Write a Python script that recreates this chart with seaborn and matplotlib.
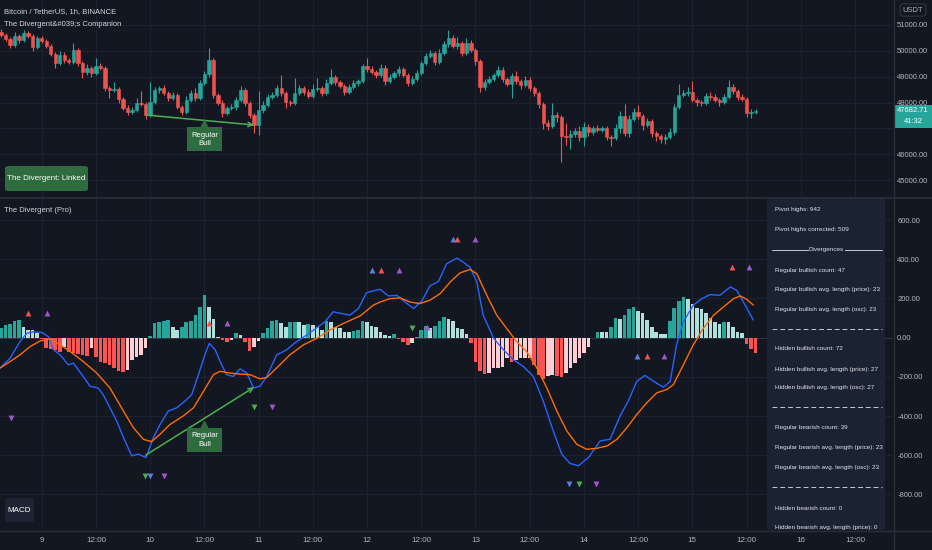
import numpy as np
import matplotlib
matplotlib.use("Agg")
import matplotlib.pyplot as plt
from matplotlib.patches import Rectangle, FancyBboxPatch
from matplotlib.lines import Line2D
import seaborn as sns

W, H = 932, 550
BG = "#131722"
GRID = "#1f2331"
AXTXT = "#b2b5be"
SEP = "#2a2e39"
UP, DOWN = "#26a69a", "#ef5350"
HIST_COLS = {"up_grow": "#26a69a", "up_fall": "#b2dfdb",
             "dn_grow": "#ff5252", "dn_fall": "#ffcdd2"}
LABEL_GREEN = "#2e6b3f"
ARROW_GREEN = "#4caf50"

sns.set_theme(style="dark", rc={"axes.facecolor": BG, "figure.facecolor": BG,
                                 "savefig.facecolor": BG})
plt.rcParams["font.family"] = ["Noto Sans Condensed", "Liberation Sans", "DejaVu Sans"]

# %% data ---------------------------------------------------------------
# 1h candles, hour 0 = day 9 00:00
hours = list(range(-9, 159))
first_open = 50722
closes = [
    50606, 50452, 50220, 50567, 50413, 50683, 50567, 50143, 50490, 50374,
    50181, 49873, 49525, 49834, 49641, 49564, 50027, 49525, 49178, 49332,
    49139, 49409, 49332, 48560, 48483, 48522, 48136, 47788, 47634, 47711,
    47981, 47943, 47518, 48020, 48483, 48560, 48367, 48174, 48290, 47827,
    47634, 48097, 48367, 48174, 48753, 49101, 49641, 48290, 47981, 47595,
    47788, 47827, 48097, 48483, 47981, 47518, 47132, 47711, 47904, 48213,
    48290, 48560, 48367, 48020, 47981, 48367, 48560, 48406, 48251, 48522,
    48560, 48367, 48753, 48985, 48792, 48637, 48406, 48599, 48753, 48830,
    49409, 49294, 49178, 49062, 49332, 48830, 48985, 49139, 49294, 49062,
    48753, 48908, 49139, 49525, 49796, 49911, 49564, 49911, 50259, 50490,
    50181, 50297, 49911, 50297, 50027, 49602, 48599, 48792, 48908, 49062,
    49255, 48908, 48715, 49024, 48830, 48676, 48869, 48560, 48367, 47943,
    47209, 47093, 47518, 47441, 46707, 46669, 46785, 46900, 46669, 47055,
    46862, 47016, 46939, 47016, 46669, 46630, 47016, 47480, 46823, 47364,
    47634, 47480, 47132, 47286, 46823, 46707, 46592, 46669, 46862, 47827,
    48290, 48367, 48406, 48097, 48020, 47981, 48251, 48213, 48097, 48020,
    48213, 48599, 48445, 48213, 48136, 47595, 47634, 47682.71,
]
upper_wick = [
    100, 60, 80, 150, 60, 120, 80, 90, 70, 60,
    60, 80, 60, 150, 100, 80, 270, 80, 60, 150,
    80, 300, 100, 60, 80, 270, 60, 80, 100, 120,
    190, 450, 60, 770, 100, 80, 100, 60, 120, 80,
    60, 150, 100, 200, 120, 100, 460, 60, 80, 100,
    80, 120, 100, 150, 60, 80, 60, 720, 150, 100,
    120, 100, 500, 60, 80, 580, 100, 60, 120, 200,
    390, 80, 150, 310, 80, 60, 80, 100, 120, 80,
    80, 310, 100, 60, 150, 100, 120, 80, 100, 60,
    80, 100, 120, 80, 100, 120, 60, 150, 120, 310,
    100, 230, 80, 200, 100, 60, 80, 120, 100, 80,
    150, 100, 60, 100, 200, 80, 150, 100, 60, 80,
    60, 100, 460, 100, 80, 500, 150, 120, 200, 190,
    100, 80, 100, 80, 60, 80, 150, 200, 460, 150,
    150, 270, 80, 120, 80, 60, 80, 100, 150, 120,
    420, 100, 200, 420, 80, 60, 120, 150, 100, 60,
    120, 270, 100, 80, 100, 60, 120, 60,
]
lower_wick = [
    60, 80, 120, 60, 100, 60, 80, 150, 60, 80,
    80, 60, 200, 80, 100, 60, 80, 100, 250, 100,
    150, 60, 80, 100, 300, 80, 150, 80, 100, 80,
    60, 80, 150, 80, 60, 100, 80, 120, 60, 80,
    100, 60, 80, 100, 60, 80, 100, 100, 80, 150,
    80, 60, 100, 80, 100, 120, 300, 380, 100, 80,
    60, 80, 100, 250, 100, 60, 80, 100, 80, 60,
    80, 120, 60, 80, 100, 60, 120, 80, 60, 100,
    60, 100, 80, 120, 60, 150, 80, 60, 100, 80,
    120, 60, 80, 60, 80, 60, 100, 80, 60, 100,
    80, 100, 120, 80, 60, 150, 200, 100, 80, 60,
    80, 100, 80, 540, 100, 150, 60, 100, 120, 150,
    250, 150, 80, 200, 1000, 300, 450, 100, 150, 350,
    150, 100, 80, 60, 120, 300, 80, 200, 100, 150,
    80, 100, 200, 80, 150, 200, 150, 180, 80, 100,
    80, 60, 100, 80, 150, 120, 80, 100, 80, 150,
    80, 60, 100, 120, 80, 150, 190, 60,
]
last_price = "47682.71"
countdown = "41:32"

# MACD histogram, one bar per candle
hist = [
    47, 64, 68, 85, 90, 56, 39, 39, 22, -7,
    -54, -57, -63, -71, -46, -71, -79, -85, -88, -96,
    -54, -101, -122, -127, -139, -155, -172, -177, -164, -113,
    -101, -88, -54, 10, 73, 81, 85, 90, 56, 39,
    56, 81, 85, 118, 157, 216, 157, 95, 5, -12,
    -24, -12, 22, 14, -24, -68, -46, -17, 22, 51,
    85, 90, 73, 56, 78, 81, 78, 64, 68, 64,
    56, 39, 85, 78, 56, 47, 30, 30, 34, 39,
    85, 81, 61,
    56, 27, 14, 10, 17, -7, -24, -37, -29, 5,
    39, 61, 51, 61, 85, 106, 95, 85, 51, 44,
    17, -29, -122, -169, -186, -181, -155, -155, -152, -105,
    -122, -113, -105, -105, -105, -139, -189, -210, -198, -189,
    -198, -203, -181, -155, -130, -105, -79, -46, -3, 27,
    27, 27, 56, 101, 95, 118, 145, 155, 135, 128,
    90, 56, 30, 17, 17, 85, 149, 186, 208, 196,
    174, 152, 145, 128, 98, 78, 68, 78, 78, 56,
    30, 22, -34, -57, -79,
]

macd_h = [-9.2, -7.0, -4.8, -3.3, -1.9, 0, 1.5, 2.6, 4.1, 5.9, 7.0,
          8.9, 10.7, 12.5, 13.6, 15.1, 16.6, 18.1, 19.9, 21.4, 23.1,
          24.7, 26.2, 28.0, 29.9, 31.7, 33.2, 34.7, 36.1, 37.1, 38.4,
          39.5, 40.9, 42.4, 43.9, 45.4, 46.9, 48.3, 49.8, 52.0, 54.2,
          56.4, 58.7, 60.9, 62.7, 64.5, 66.4, 68.2, 70.1, 71.9, 74.9,
          76.7, 78.6, 80.4, 82.3, 84.1, 85.9, 87.8, 89.6, 91.9, 93.3,
          94.8, 96.3, 97.7, 100.0, 102.2, 104.4, 106.6, 108.8, 111.0, 113.2,
          115.1, 116.9, 118.8, 121.0, 123.6, 125.8, 128.0, 129.8, 131.7, 133.5,
          135.7, 137.6, 139.1, 140.5, 142.0, 144.2, 146.1, 147.9, 150.1, 152.4,
          153.8, 155.3, 157.5]
macd_v = [-155, -105, -20, 22, 30, 27, 5, -62, -88, -139, -130,
          -189, -248, -257, -291, -358, -426, -510, -603, -595, -612,
          -510, -443, -375, -358, -324, -291, -189, -88, -29, -62,
          -122, -189, -198, -159, -181, -257, -248, -198, -88, -62,
          -20, 14, 51, 81, 132, 123, 115, 149, 230, 247,
          213, 216, 182, 149, 186, 264, 287, 377, 406, 385,
          360, 284, 115, -3, -62, -113, -147, -198, -324, -476,
          -595, -642, -654, -612, -527, -519, -400, -324, -223, -193,
          -227, -253, -223, -37, 81, 166, 199, 220, 216, 259,
          242, 182, 90]

signal_h = [-9.2, -7.0, -4.8, -2.6, -0.4, 1.8, 4.1, 6.3, 9.2, 12.2,
            15.1, 18.1, 20.3, 22.5, 24.3, 26.2, 28.4, 31.3, 33.6, 35.8,
            38.0, 39.5, 41.7, 43.9, 46.1, 48.3, 49.8, 52.0, 54.9, 57.9,
            60.9, 63.8, 66.8, 70.5, 73.4, 74.9, 77.1, 79.3, 81.5, 83.7,
            85.9, 88.2, 90.4, 92.6, 94.8, 96.3, 98.5, 100.7, 102.9, 105.1,
            107.3, 109.6, 111.8, 114.0, 116.2, 118.4, 120.6, 122.8, 125.1, 127.3,
            129.5, 131.7, 133.9, 136.1, 138.3, 139.8, 142.0, 144.2, 146.4, 148.7,
            150.9, 153.1, 154.6, 156.0, 157.5]
signal_v = [-155, -122, -88, -46, -17, -7, -37, -71, -122, -181,
            -257, -375, -460, -519, -531, -493, -443, -400, -358, -274,
            -189, -172, -181, -186, -189, -210, -203, -155, -88, -37,
            -3, 39, 73, 111, 166, 182, 199, 203, 182, 174,
            191, 225, 284, 331, 348, 326, 216, 115, 47, -20,
            -71, -155, -257, -375, -476, -544, -570, -565, -553, -519,
            -460, -392, -333, -282, -265, -240, -139, -37, 47, 115,
            157, 199, 213, 196, 166]

# divergence markers (hour, value)
up_red_h = [-3, 37, 75, 92, 134, 152.7]
up_red_v = [128, 73, 343, 504, -95, 360]
up_purple_h = [1.1, 40.9, 79, 85.3, 96, 137.8, 156.6]
up_purple_v = [128, 73, 343, 55, 504, -95, 360]
up_blue_h = [73, 91, 131.7]
up_blue_v = [343, 504, -95]
dn_purple_h = [-6.9, 27.1, 51, 122.7]
dn_purple_v = [-412, -705, -352, -747]
dn_green_h = [22.9, 47, 82, 118.8]
dn_green_v = [-705, -352, 51, -747]
dn_blue_h = [24.0, 116.8]
dn_blue_v = [-705, -747]

# regular bullish divergence
div_h = [23, 47]
div_price = [47518, 47132]
div_osc = [-600, -253]

xtick_hours = [0, 12, 24, 36, 48, 60, 72, 84, 96, 108, 120, 132, 144, 156, 168, 180]
xtick_labels = ["9", "12:00", "10", "12:00", "11", "12:00", "12", "12:00",
                "13", "12:00", "14", "12:00", "15", "12:00", "16", "12:00"]
price_ticks = [45000, 46000, 47000, 48000, 49000, 50000, 51000]
osc_ticks = [-800, -600, -400, -200, 0, 200, 400, 600]

stats = [
    (210, "Pivot highs: 942"),
    (230, "Pivot highs corrected: 509"),
    (270, "Regular bullish count: 47"),
    (290, "Regular bullish avg. length (price): 23"),
    (310, "Regular bullish avg. length (osc): 23"),
    (349, "Hidden bullish count: 72"),
    (369, "Hidden bullish avg. length (price): 27"),
    (388, "Hidden bullish avg. length (osc): 27"),
    (428, "Regular bearish count: 39"),
    (448, "Regular bearish avg. length (price): 23"),
    (468, "Regular bearish avg. length (osc): 23"),
    (508, "Hidden bearish count: 0"),
    (527, "Hidden bearish avg. length (price): 0"),
]
stat_dashes = [329, 407, 487]

# %% figure -------------------------------------------------------------
fig = plt.figure(figsize=(W / 100, H / 100), dpi=100)


def fx(px):
    return px / W


def fy(py):
    return 1 - py / H


XMIN, XMAX = -9.23, 188.4
ax_p = fig.add_axes([0, fy(197), fx(893), 197 / H])
ax_m = fig.add_axes([0, fy(530), fx(893), (530 - 198) / H])

for ax in (ax_p, ax_m):
    ax.set_facecolor(BG)
    for s in ax.spines.values():
        s.set_visible(False)
    ax.set_xlim(XMIN, XMAX)
    ax.set_xticks(xtick_hours)
    ax.grid(True, color=GRID, lw=0.7)
    ax.set_axisbelow(True)
    ax.yaxis.tick_right()
    ax.tick_params(axis="y", length=0, pad=3, labelsize=5.5, labelcolor=AXTXT)
    ax.tick_params(axis="x", length=0)

# candles
o = np.array([first_open] + closes[:-1])
c = np.array(closes)
hi = np.maximum(o, c) + np.array(upper_wick)
lo = np.minimum(o, c) - np.array(lower_wick)
cc = np.where(c >= o, UP, DOWN)
ax_p.vlines(hours, lo, hi, colors=cc, lw=0.8, zorder=2)
ax_p.bar(hours, np.abs(c - o), bottom=np.minimum(o, c), width=0.74,
         color=cc, edgecolor=cc, linewidth=0.4, zorder=3)
ax_p.set_ylim(44353, 51957)
ax_p.set_yticks(price_ticks)
# 47000 sits under the last-price tag
ax_p.set_yticklabels(["" if t == 47000 else f"{t:.2f}" for t in price_ticks])
ax_p.set_xticklabels([])

ax_p.annotate("", xy=(div_h[1], div_price[1]), xytext=(div_h[0], div_price[0]),
              arrowprops=dict(arrowstyle="->", color=ARROW_GREEN, lw=1.1,
                              shrinkA=0, shrinkB=0, mutation_scale=8), zorder=4)
ax_p.plot(36, 47180, marker="^", ms=6, color=LABEL_GREEN, zorder=5)
ax_p.text(36, 46580, "Regular\nBull", ha="center", va="center", fontsize=5.5,
          color="white", linespacing=1.25, zorder=6,
          bbox=dict(boxstyle="square,pad=0.55", fc=LABEL_GREEN, ec="none"))

# MACD histogram
hcols = []
for i, v in enumerate(hist):
    prev = hist[i - 1] if i > 0 else 0
    if v >= 0:
        hcols.append(HIST_COLS["up_grow"] if v > prev else HIST_COLS["up_fall"])
    else:
        hcols.append(HIST_COLS["dn_grow"] if v < prev else HIST_COLS["dn_fall"])
ax_m.bar(hours, hist, width=0.8, color=hcols, linewidth=0, zorder=2)

sns.lineplot(x=macd_h, y=macd_v, ax=ax_m, color="#2962ff", linewidth=1.0,
             sort=False, estimator=None, zorder=3)
sns.lineplot(x=signal_h, y=signal_v, ax=ax_m, color="#ff6d00", linewidth=1.0,
             sort=False, estimator=None, zorder=3)

tri = [(up_red_h, up_red_v, "^", "#f05350"),
       (up_purple_h, up_purple_v, "^", "#9b59c6"),
       (up_blue_h, up_blue_v, "^", "#5b7fd8"),
       (dn_purple_h, dn_purple_v, "v", "#9b59c6"),
       (dn_green_h, dn_green_v, "v", "#4caf50"),
       (dn_blue_h, dn_blue_v, "v", "#5b7fd8")]
for th, tv, mk, col in tri:
    sns.scatterplot(x=th, y=tv, ax=ax_m, marker=mk, s=18, color=col,
                    linewidth=0, zorder=4)

ax_m.annotate("", xy=(div_h[1], div_osc[1]), xytext=(div_h[0], div_osc[0]),
              arrowprops=dict(arrowstyle="->", color=ARROW_GREEN, lw=1.1,
                              shrinkA=0, shrinkB=0, mutation_scale=8), zorder=4)
ax_m.plot(36, -445, marker="^", ms=6, color=LABEL_GREEN, zorder=5)
ax_m.text(36, -523, "Regular\nBull", ha="center", va="center", fontsize=5.5,
          color="white", linespacing=1.25, zorder=6,
          bbox=dict(boxstyle="square,pad=0.55", fc=LABEL_GREEN, ec="none"))

ax_m.axhline(0, color="#363a45", lw=0.6, zorder=1)
ax_m.set_ylim(-982, 713)
ax_m.set_yticks(osc_ticks)
ax_m.set_yticklabels([f"{t:.2f}" for t in osc_ticks])
ax_m.set_xticklabels(xtick_labels)
ax_m.tick_params(axis="x", pad=5, labelsize=5.8, labelcolor=AXTXT)
ax_m.set_xlabel("")
ax_m.set_ylabel("")

# %% overlays -----------------------------------------------------------
def box(x0, y0, x1, y1, fc, round_=False):
    if round_:
        p = FancyBboxPatch((fx(x0), fy(y1)), fx(x1 - x0), (y1 - y0) / H,
                           boxstyle="round,pad=0,rounding_size=0.004",
                           transform=fig.transFigure, fc=fc, ec="none", zorder=5)
    else:
        p = Rectangle((fx(x0), fy(y1)), fx(x1 - x0), (y1 - y0) / H,
                      transform=fig.transFigure, fc=fc, ec="none", zorder=5)
    fig.add_artist(p)


def hline(x0, x1, y, **kw):
    fig.add_artist(Line2D([fx(x0), fx(x1)], [fy(y), fy(y)],
                          transform=fig.transFigure, zorder=6, **kw))


# separators
hline(0, W, 197.5, color=SEP, lw=1.2)
hline(0, W, 530.5, color=SEP, lw=1)
fig.add_artist(Line2D([fx(893.5)] * 2, [0, 1], transform=fig.transFigure,
                      color=SEP, lw=1, zorder=6))

title_kw = dict(fontsize=5.5, color="#d1d4dc", va="center", ha="left", zorder=7)
fig.text(fx(4), fy(12), "Bitcoin / TetherUS, 1h, BINANCE", **title_kw)
fig.text(fx(4), fy(24), "The Divergent&#039;s Companion", **title_kw)
fig.text(fx(4), fy(210), "The Divergent (Pro)", **title_kw)

box(5, 166, 88, 191, LABEL_GREEN, round_=True)
fig.text(fx(46.5), fy(178.5), "The Divergent: Linked", fontsize=5.8,
         color="white", ha="center", va="center", zorder=7)

box(5, 498, 34, 522, "#1e2434", round_=True)
fig.text(fx(19.5), fy(510), "MACD", fontsize=5.8, color="white",
         ha="center", va="center", zorder=7)

fig.text(fx(913), fy(10), "USDT", fontsize=5.4, color=AXTXT, ha="center",
         va="center", zorder=7,
         bbox=dict(boxstyle="round,pad=0.35", fc=BG, ec="#3a3e4a", lw=0.6))

box(894, 105, W, 128, UP)
fig.text(fx(913), fy(111), last_price, fontsize=5.4, color="white",
         ha="center", va="center", zorder=7)
fig.text(fx(913), fy(121.5), countdown, fontsize=5.4, color="white",
         ha="center", va="center", zorder=7)

# stats table
box(767, 198, 885, 530, "#1b2231")
for y, s in stats:
    fig.text(fx(775), fy(y), s, fontsize=4.6, color="#e1e3ea",
             ha="left", va="center", zorder=7)
hline(772, 808, 250, color="#c8cad2", lw=0.7)
hline(845, 882, 250, color="#c8cad2", lw=0.7)
fig.text(fx(826.5), fy(250), "Divergences", fontsize=4.6, color="#e1e3ea",
         ha="center", va="center", zorder=7)
for y in stat_dashes:
    hline(772, 882, y, color="#c8cad2", lw=0.7, linestyle=(0, (5, 3)))

fig.savefig("out.png", dpi=100, facecolor=BG)
